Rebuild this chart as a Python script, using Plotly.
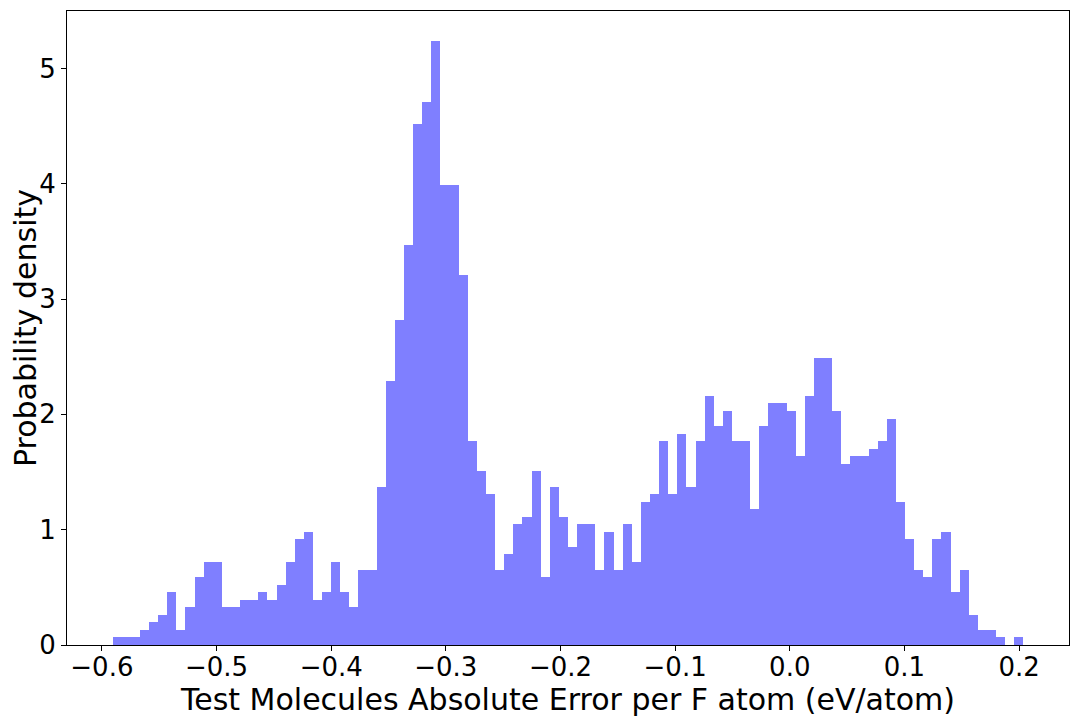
import plotly.graph_objects as go

# histogram: 100 equal bins, counts per bin
bin_start = -0.5907
bin_width = 0.007945
counts = [
    1, 1, 1, 2, 3, 4, 7, 2, 5, 9,
    11, 11, 5, 5, 6, 6, 7, 6, 8, 11,
    14, 15, 6, 7, 11, 7, 5, 10, 10, 21,
    35, 43, 53, 69, 72, 80, 61, 61, 49, 27,
    23, 20, 10, 12, 16, 17, 23, 9, 21, 17,
    13, 16, 16, 10, 15, 10, 16, 11, 19, 20,
    27, 20, 28, 21, 27, 33, 29, 31, 27, 27,
    18, 29, 32, 32, 31, 25, 33, 38, 38, 31,
    24, 25, 25, 26, 27, 30, 19, 14, 10, 9,
    14, 15, 7, 10, 4, 2, 2, 1, 0, 1,
]
x_ticks = [-0.6, -0.5, -0.4, -0.3, -0.2, -0.1, 0.0, 0.1, 0.2]
x_tick_labels = ["−0.6", "−0.5", "−0.4", "−0.3", "−0.2", "−0.1", "0.0", "0.1", "0.2"]
y_ticks = [0, 1, 2, 3, 4, 5]

total = sum(counts)
density = [c / (total * bin_width) for c in counts]
centers = [bin_start + bin_width * (i + 0.5) for i in range(len(counts))]

# matplotlib-style 5% x margin, 5% headroom on y
x_lo = bin_start
x_hi = bin_start + bin_width * len(counts)
pad = 0.05 * (x_hi - x_lo)
y_hi = 1.05 * max(density)

FONT = "DejaVu Sans"

fig = go.Figure(
    go.Bar(
        x=centers, y=density, width=bin_width,
        marker=dict(color="rgba(0,0,255,0.5)", line=dict(width=0)),
        hoverinfo="x+y",
    )
)

axis_common = dict(
    showline=True, linecolor="black", linewidth=1, mirror=True,
    ticks="outside", ticklen=5, tickwidth=1, tickcolor="black",
    showgrid=False, zeroline=False,
    tickfont=dict(family=FONT, size=26, color="black"),
)

fig.update_xaxes(
    range=[x_lo - pad, x_hi + pad],
    tickvals=x_ticks, ticktext=x_tick_labels,
    ticklabelstandoff=-6,
    title=dict(text="Test Molecules Absolute Error per F atom (eV/atom)",
               font=dict(family=FONT, size=30, color="black"), standoff=0),
    **axis_common,
)
fig.update_yaxes(
    range=[0, y_hi],
    tickvals=y_ticks,
    title=dict(text="Probability density",
               font=dict(family=FONT, size=30, color="black"), standoff=4),
    **axis_common,
)

# page body adds an 8px offset, so the figure is 8px smaller than the window
fig.update_layout(
    width=1072, height=712,
    bargap=0,
    showlegend=False,
    plot_bgcolor="white", paper_bgcolor="white",
    margin=dict(l=59, r=11, t=3, b=75, autoexpand=False),
    font=dict(family=FONT, color="black"),
)

fig.write_html("out.html")
